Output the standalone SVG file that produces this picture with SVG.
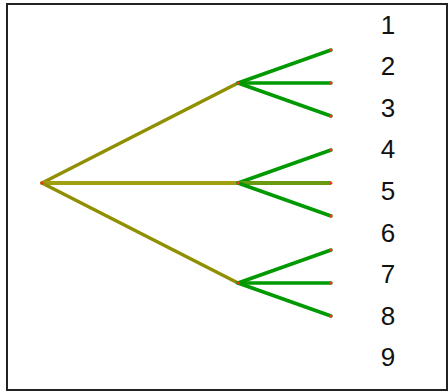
<svg xmlns="http://www.w3.org/2000/svg" width="448" height="392" viewBox="0 0 448 392">
<style>
.o{stroke:#8f8f00;stroke-width:3.5;stroke-linecap:round;fill:none}
.g{stroke:#009a00;stroke-width:3.5;stroke-linecap:round;fill:none}
.m{stroke:#6a9a10;stroke-width:4;fill:none}
.d{fill:#ff3030}
.t{font-family:"Liberation Sans",Arial,sans-serif;font-size:26px;fill:#111;text-anchor:middle}
</style>
<rect x="7" y="4" width="440" height="386" fill="#fff" stroke="#222" stroke-width="2"/>
<g id="connectors">
<line class="o" x1="42" y1="183" x2="238" y2="83"/>
<line class="o" x1="42" y1="183" x2="238" y2="183" style="stroke:#a0a010;stroke-width:4"/>
<line class="o" x1="42" y1="183" x2="238" y2="283"/>
<line class="g" x1="238" y1="83" x2="331" y2="50"/>
<line class="g" x1="238" y1="83" x2="331" y2="83"/>
<line class="g" x1="238" y1="83" x2="331" y2="116"/>
<line class="g" x1="238" y1="183" x2="331" y2="150"/>
<line class="m" x1="238" y1="183" x2="331" y2="183"/>
<line class="g" x1="238" y1="183" x2="331" y2="216"/>
<line class="g" x1="238" y1="283" x2="331" y2="250"/>
<line class="g" x1="238" y1="283" x2="331" y2="283"/>
<line class="g" x1="238" y1="283" x2="331" y2="316"/>
</g>
<g id="root"><circle class="d" cx="42" cy="183" r="1.5"/></g>
<g id="n-a"><circle class="d" cx="238" cy="83" r="1.5"/></g>
<g id="n-b"><circle class="d" cx="238" cy="183" r="1.5"/></g>
<g id="n-c"><circle class="d" cx="238" cy="283" r="1.5"/></g>
<g id="leaves">
<circle class="d" cx="331" cy="50" r="1.5"/>
<circle class="d" cx="331" cy="83" r="1.5"/>
<circle class="d" cx="331" cy="116" r="1.5"/>
<circle class="d" cx="331" cy="150" r="1.5"/>
<circle class="d" cx="331" cy="183" r="1.5"/>
<circle class="d" cx="331" cy="216" r="1.5"/>
<circle class="d" cx="331" cy="250" r="1.5"/>
<circle class="d" cx="331" cy="283" r="1.5"/>
<circle class="d" cx="331" cy="316" r="1.5"/>
</g>
<g id="labels">
<text class="t" x="388" y="34">1</text>
<text class="t" x="388" y="75">2</text>
<text class="t" x="388" y="117">3</text>
<text class="t" x="388" y="158">4</text>
<text class="t" x="388" y="200">5</text>
<text class="t" x="388" y="242">6</text>
<text class="t" x="388" y="283">7</text>
<text class="t" x="388" y="325">8</text>
<text class="t" x="388" y="366">9</text>
</g>
</svg>
